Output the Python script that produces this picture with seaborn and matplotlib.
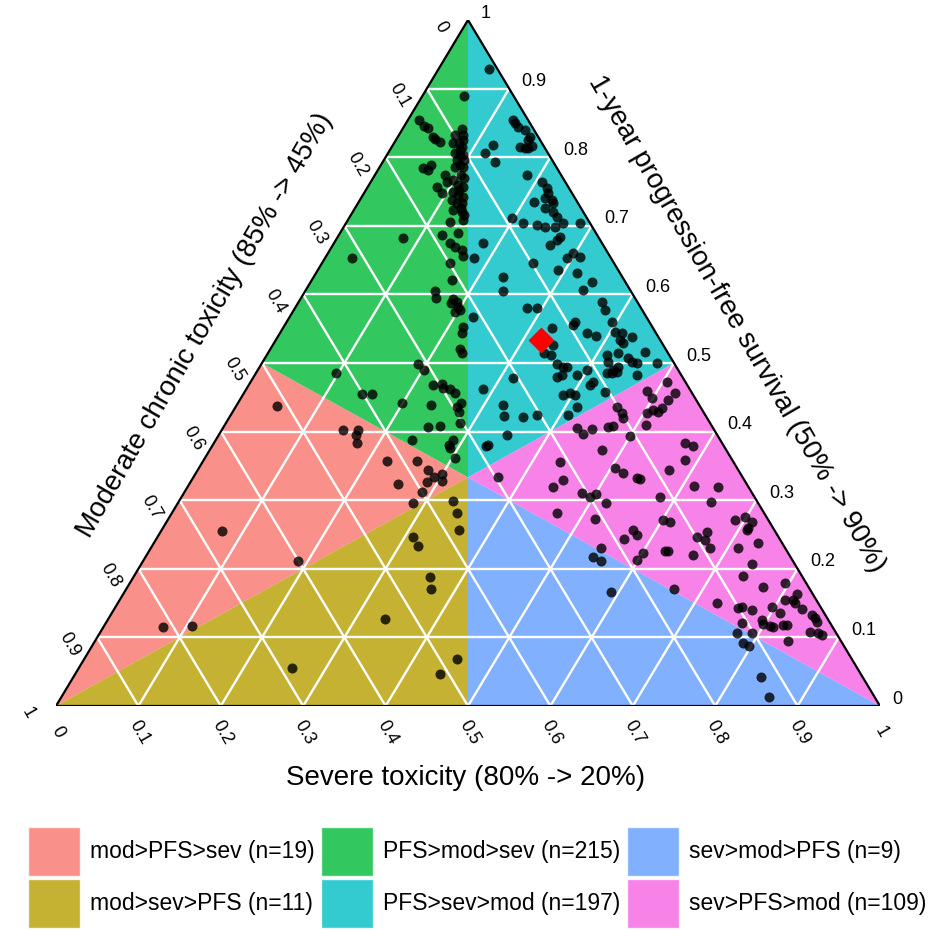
import numpy as np
import pandas as pd
import matplotlib
matplotlib.use("Agg")
import matplotlib.pyplot as plt
import seaborn as sns
from matplotlib.patches import Patch

# ternary data: each point is (PFS, severe); moderate = 1 - PFS - severe
green_pfs = [0.889, 0.854, 0.846, 0.843, 0.829, 0.827, 0.822, 0.841, 0.832, 0.832, 0.821, 0.821, 0.815, 0.825,
             0.806, 0.803, 0.803, 0.796, 0.789, 0.786, 0.786, 0.784, 0.789, 0.781, 0.774, 0.764, 0.757, 0.748,
             0.767, 0.760, 0.757, 0.749, 0.745, 0.742, 0.738, 0.733, 0.733, 0.723, 0.720, 0.709, 0.706,
             0.811, 0.796, 0.774, 0.770, 0.752, 0.726, 0.716,
             0.682, 0.687, 0.675, 0.690, 0.669, 0.665, 0.656, 0.646, 0.621, 0.605, 0.595, 0.593, 0.589, 0.588, 0.582, 0.577,
             0.574, 0.553, 0.544, 0.520, 0.515, 0.499, 0.490, 0.468, 0.469, 0.464, 0.462, 0.456, 0.653, 0.485, 0.455, 0.455,
             0.442, 0.439, 0.436, 0.442, 0.429, 0.413, 0.407, 0.408, 0.388, 0.381, 0.376, 0.388, 0.362]
green_sev = [0.051, 0.013, 0.023, 0.030, 0.043, 0.047, 0.055, 0.072, 0.078, 0.068, 0.071, 0.078, 0.085, 0.081,
             0.081, 0.089, 0.092, 0.089, 0.096, 0.091, 0.101, 0.053, 0.060, 0.061, 0.085, 0.093, 0.084, 0.095,
             0.098, 0.108, 0.116, 0.107, 0.115, 0.123, 0.112, 0.120, 0.126, 0.120, 0.133, 0.140, 0.125,
             0.085, 0.097, 0.105, 0.110, 0.113, 0.129, 0.137,
             0.080, 0.125, 0.141, 0.143, 0.150, 0.160, 0.166, 0.155, 0.170, 0.158, 0.164, 0.185, 0.192, 0.185, 0.197, 0.202,
             0.197, 0.218, 0.221, 0.230, 0.235, 0.190, 0.201, 0.224, 0.234, 0.238, 0.247, 0.256, 0.033, 0.097, 0.144, 0.156,
             0.199, 0.236, 0.269, 0.270, 0.275, 0.284, 0.248, 0.262, 0.238, 0.286, 0.290, 0.288, 0.303]

cyan_pfs = [0.929, 0.854, 0.850, 0.844, 0.840, 0.829, 0.825, 0.816, 0.815, 0.813, 0.813, 0.818, 0.806, 0.793, 0.774, 0.735, 0.711, 0.704, 0.701,
            0.764, 0.755, 0.748, 0.741, 0.738, 0.733, 0.726, 0.720, 0.713, 0.704, 0.698, 0.698, 0.684, 0.679,
            0.672, 0.704, 0.653, 0.660, 0.655, 0.636, 0.631, 0.618, 0.606, 0.589, 0.577, 0.560, 0.560, 0.555,
            0.675, 0.653, 0.625, 0.605, 0.567, 0.580, 0.580, 0.646, 0.551, 0.526, 0.515, 0.512, 0.499, 0.494, 0.494, 0.480, 0.483, 0.478, 0.462, 0.453,
            0.439, 0.423, 0.421, 0.424, 0.395, 0.379, 0.381,
            0.544, 0.539, 0.545, 0.544, 0.534, 0.529, 0.538, 0.516, 0.512, 0.502, 0.515, 0.507, 0.502, 0.500, 0.500,
            0.494, 0.490, 0.485, 0.485, 0.487, 0.483, 0.458, 0.468, 0.472, 0.490, 0.483, 0.453, 0.456, 0.436, 0.424]
cyan_sev = [0.061, 0.128, 0.132, 0.139, 0.149, 0.161, 0.160, 0.170, 0.156, 0.163, 0.166, 0.121, 0.118, 0.136, 0.185, 0.212, 0.198, 0.215, 0.233,
            0.208, 0.218, 0.223, 0.223, 0.233, 0.237, 0.230, 0.243, 0.252, 0.263, 0.244, 0.257, 0.270, 0.268,
            0.264, 0.284, 0.294, 0.297, 0.309, 0.291, 0.317, 0.342, 0.336, 0.368, 0.378, 0.395, 0.350, 0.350,
            0.181, 0.181, 0.230, 0.240, 0.223, 0.282, 0.294, 0.256, 0.326, 0.340, 0.335, 0.345, 0.359, 0.368, 0.373, 0.368, 0.373, 0.316, 0.287, 0.389,
            0.323, 0.332, 0.356, 0.372, 0.350, 0.332, 0.334,
            0.373, 0.386, 0.406, 0.415, 0.418, 0.424, 0.430, 0.457, 0.413, 0.419, 0.425, 0.441, 0.448, 0.455, 0.479,
            0.435, 0.431, 0.426, 0.432, 0.437, 0.464, 0.437, 0.414, 0.416, 0.400, 0.391, 0.403, 0.396, 0.414, 0.409]

pink_pfs = [0.472, 0.456, 0.459, 0.449, 0.405, 0.397, 0.404, 0.356, 0.329, 0.319, 0.334, 0.281,
            0.436, 0.427, 0.420, 0.407, 0.408, 0.427, 0.432, 0.429, 0.434, 0.446, 0.410, 0.394, 0.373, 0.347, 0.340, 0.332, 0.331, 0.296,
            0.305, 0.271, 0.268, 0.383, 0.379, 0.359, 0.344, 0.321, 0.257, 0.249, 0.243, 0.223, 0.213, 0.226, 0.226, 0.220, 0.246, 0.230,
            0.311, 0.305, 0.309, 0.273, 0.171,
            0.319, 0.297, 0.271, 0.276, 0.268, 0.260, 0.257, 0.254, 0.242, 0.230, 0.230, 0.238, 0.207, 0.190,
            0.174, 0.179, 0.163, 0.155, 0.150, 0.155, 0.144, 0.136, 0.141, 0.133, 0.128, 0.122, 0.108, 0.106, 0.104,
            0.095, 0.150, 0.143, 0.144, 0.140, 0.121, 0.125, 0.120, 0.117, 0.115, 0.118, 0.118, 0.106]
pink_sev = [0.505, 0.523, 0.488, 0.499, 0.430, 0.441, 0.449, 0.434, 0.451, 0.444, 0.370, 0.467,
            0.463, 0.473, 0.478, 0.467, 0.472, 0.504, 0.509, 0.516, 0.518, 0.520, 0.511, 0.500, 0.476, 0.505, 0.518, 0.539, 0.543, 0.520,
            0.581, 0.601, 0.611, 0.572, 0.584, 0.584, 0.572, 0.614, 0.572, 0.581, 0.568, 0.601, 0.598, 0.626, 0.630, 0.663, 0.655, 0.547,
            0.483, 0.495, 0.501, 0.518, 0.664,
            0.644, 0.647, 0.688, 0.698, 0.711, 0.710, 0.710, 0.663, 0.667, 0.679, 0.713, 0.733, 0.741, 0.739,
            0.771, 0.795, 0.818, 0.817, 0.822, 0.807, 0.797, 0.811, 0.835, 0.851, 0.857, 0.862, 0.861, 0.872, 0.878,
            0.841, 0.727, 0.756, 0.760, 0.775, 0.772, 0.794, 0.798, 0.808, 0.813, 0.823, 0.828, 0.792]

blue_pfs = [0.217, 0.211, 0.166, 0.106, 0.092, 0.088, 0.042, 0.013]
blue_sev = [0.543, 0.556, 0.590, 0.773, 0.788, 0.797, 0.835, 0.859]

salmon_pfs = [0.357, 0.357, 0.344, 0.338, 0.334, 0.328, 0.327, 0.324, 0.312, 0.296,
              0.437, 0.402, 0.402, 0.395, 0.383, 0.255, 0.211, 0.115, 0.117]
salmon_sev = [0.223, 0.260, 0.280, 0.299, 0.292, 0.304, 0.287, 0.253, 0.288, 0.285,
              0.050, 0.147, 0.165, 0.167, 0.174, 0.074, 0.188, 0.072, 0.106]

olive_pfs = [0.299, 0.281, 0.257, 0.246, 0.233, 0.188, 0.171, 0.127, 0.069, 0.047, 0.055]
olive_sev = [0.332, 0.346, 0.361, 0.310, 0.323, 0.360, 0.370, 0.336, 0.452, 0.442, 0.259]

# reference scenario (red diamond)
ref_pfs, ref_sev = 0.534, 0.322

region_labels = ["mod>PFS>sev (n=19)", "mod>sev>PFS (n=11)", "PFS>mod>sev (n=215)",
                 "PFS>sev>mod (n=197)", "sev>mod>PFS (n=9)", "sev>PFS>mod (n=109)"]
region_colors = ["#F8766D", "#B79F00", "#00BA38", "#00BFC4", "#619CFF", "#F564E3"]

ticks = [0, 0.1, 0.2, 0.3, 0.4, 0.5, 0.6, 0.7, 0.8, 0.9, 1]
tick_labels = ["0", "0.1", "0.2", "0.3", "0.4", "0.5", "0.6", "0.7", "0.8", "0.9", "1"]


def to_xy(p, s):
    p = np.asarray(p, dtype=float)
    s = np.asarray(s, dtype=float)
    return s + p / 2, p


pfs = green_pfs + cyan_pfs + pink_pfs + blue_pfs + salmon_pfs + olive_pfs
sev = green_sev + cyan_sev + pink_sev + blue_sev + salmon_sev + olive_sev
x, y = to_xy(pfs, sev)
df = pd.DataFrame({"x": x, "y": y})

sns.set_theme(style="white")
plt.rcParams['font.family'] = ['Liberation Sans', 'DejaVu Sans']
plt.rcParams['text.color'] = 'black'

fig = plt.figure(figsize=(9.35, 9.3), dpi=100)
ax = fig.add_axes([56 / 935, 1 - 706 / 930, 824 / 935, 686 / 930])
ax.set_xlim(0, 1)
ax.set_ylim(0, 1)
ax.axis('off')

# region polygons (pfs, sev corners)
T, R, L = (1, 0), (0, 1), (0, 0)
C, TL, TR, LR = (1 / 3, 1 / 3), (0.5, 0), (0.5, 0.5), (0, 0.5)
corners = [[L, TL, C], [L, C, LR], [T, TL, C], [T, C, TR], [R, C, LR], [R, TR, C]]
for poly, col in zip(corners, region_colors):
    px, py = to_xy([c[0] for c in poly], [c[1] for c in poly])
    ax.fill(px, py, color=col, alpha=0.8, lw=0, zorder=1)

# white grid
for k in ticks[1:-1]:
    for p0, s0, p1, s1 in [(k, 0, k, 1 - k), (0, k, 1 - k, k), (0, 1 - k, 1 - k, 0)]:
        gx, gy = to_xy([p0, p1], [s0, s1])
        ax.plot(gx, gy, color='white', lw=1.7, zorder=2, solid_capstyle='butt')

bx, by = to_xy([0, 0, 1, 0], [0, 1, 0, 0])
ax.plot(bx, by, color='black', lw=1.6, zorder=3, solid_joinstyle='miter')

sns.scatterplot(data=df, x="x", y="y", color='black', alpha=0.8, s=52, linewidth=0,
                ax=ax, zorder=4, clip_on=False, legend=False)
rx, ry = to_xy([ref_pfs], [ref_sev])
ax.scatter(rx, ry, marker='D', s=150, color='red', zorder=5, clip_on=False)

# tick labels
for k, lab in zip(ticks, tick_labels):
    # bottom: severe toxicity
    bxk, byk = to_xy([0], [k])
    ax.annotate(lab, (bxk[0], byk[0]), xytext=(1, -19), textcoords='offset points',
                ha='center', va='center', rotation=-60, fontsize=13, annotation_clip=False)
    # left: moderate chronic toxicity
    lxk, lyk = to_xy([1 - k], [0])
    ax.annotate(lab, (lxk[0], lyk[0]), xytext=(-20, -5), textcoords='offset points',
                ha='center', va='center', rotation=-60, fontsize=13, annotation_clip=False)
    # right: PFS
    rxk, ryk = to_xy([k], [1 - k])
    ax.annotate(lab, (rxk[0], ryk[0]), xytext=(9, 5), textcoords='offset points',
                ha='left', va='center', fontsize=13, annotation_clip=False)

fig.text(466 / 935, 1 - 778 / 930, "Severe toxicity (80% -> 20%)", ha='center', va='center', fontsize=20)
fig.text(205 / 935, 1 - 325 / 930, "Moderate chronic toxicity (85% -> 45%)", ha='center', va='center',
         rotation=60, rotation_mode='anchor', fontsize=20)
fig.text(737 / 935, 1 - 324 / 930, "1-year progression-free survival (50% -> 90%)", ha='center', va='center',
         rotation=-60, rotation_mode='anchor', fontsize=20)

handles = [Patch(facecolor=c, alpha=0.8, edgecolor='white', label=l) for c, l in zip(region_colors, region_labels)]
fig.legend(handles=handles, ncol=3, loc='upper left', bbox_to_anchor=(28 / 935, 1 - 827 / 930),
           frameon=False, fontsize=16.5, handlelength=2.25, handleheight=2.9, handletextpad=0.45,
           columnspacing=0.3, labelspacing=0.15, borderpad=0, borderaxespad=0)

fig.savefig("out.png", dpi=100)
